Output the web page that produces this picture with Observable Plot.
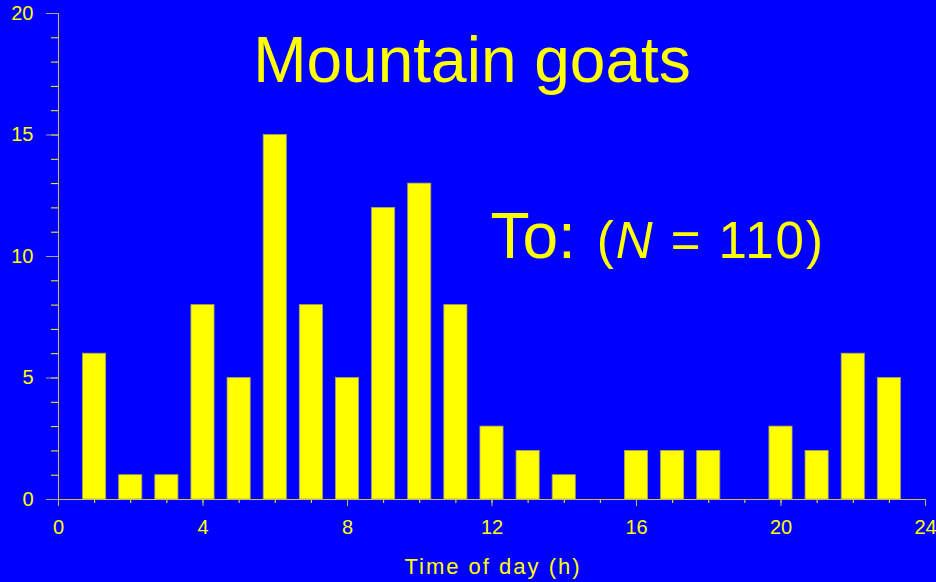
<!DOCTYPE html>
<html>
<head>
<meta charset="utf-8">
<script src="https://cdn.jsdelivr.net/npm/d3@7"></script>
<script src="https://cdn.jsdelivr.net/npm/@observablehq/plot@0.6"></script>
<style>
  html, body { margin: 0; padding: 0; background: #0000ff; }
</style>
</head>
<body>
<div id="chart"></div>
<script>
const hours = [1,2,3,4,5,6,7,8,9,10,11,12,13,14,15,16,17,18,19,20,21,22,23];
const counts = [6,1,1,8,5,15,8,5,12,13,8,3,2,1,0,2,2,2,0,3,2,6,5];
const xMajorTicks = [0,4,8,12,16,20,24];
const xMinorTicks = d3.range(0, 25, 1);
const yMajorTicks = [0,5,10,15,20];
const yMinorTicks = d3.range(0, 21, 1);
const titleText = "Mountain goats";
const groupText = "To: (N = 110)";
const xLabel = "Time of day (h)";

const data = hours.map((h, i) => ({h, n: counts[i]})).filter(d => d.n > 0);
const yellow = "#ffff00";
const axisColor = "#c8bd5c";

const chart = Plot.plot({
  width: 936,
  height: 582,
  marginLeft: 58,
  marginRight: 11,
  marginTop: 13,
  marginBottom: 83,
  style: {background: "#0000ff", color: yellow, fontFamily: "'Liberation Sans', Arial, sans-serif", overflow: "visible"},
  x: {domain: [0, 24]},
  y: {domain: [0, 20]},
  marks: [
    Plot.rectY(data, {x1: d => d.h - 0.32, x2: d => d.h + 0.32, y: "n", fill: yellow, stroke: "#a6a25a", strokeWidth: 0.8}),
    Plot.axisY(yMinorTicks, {tickSize: 7, tickFormat: () => "", label: null, stroke: yellow}),
    Plot.axisY(yMajorTicks, {tickSize: 12, tickPadding: 13, fontSize: 20, label: null, stroke: "#aaa68a", fill: yellow}),
    Plot.axisX(xMinorTicks, {tickSize: 4, tickFormat: () => "", label: null, stroke: yellow}),
    Plot.axisX(xMajorTicks, {tickSize: 7, tickPadding: 13, fontSize: 20, label: null, stroke: "#c8bd5c", fill: yellow}),
    Plot.ruleX([0], {stroke: axisColor, y1: 0, y2: 20}),
    Plot.ruleY([0], {stroke: axisColor, x1: 0, x2: 24}),
    Plot.text([titleText], {frameAnchor: "top", dx: -20, dy: 68, lineAnchor: "bottom", textAnchor: "middle", fontSize: 64, fill: yellow}),
    Plot.text([groupText], {frameAnchor: "top-left", dx: 432, dy: 244, lineAnchor: "bottom", textAnchor: "start", fontSize: 64, fill: yellow}),
    Plot.text([xLabel], {frameAnchor: "bottom", dx: 1, dy: 74, lineAnchor: "bottom", textAnchor: "middle", fontSize: 22, fill: yellow})
  ]
});

for (const t of chart.querySelectorAll("text")) {
  if (t.textContent === groupText) {
    t.innerHTML = 'To: <tspan font-size="51" dx="3" letter-spacing="2">(<tspan font-style="italic">N</tspan> = 110)</tspan>';
  } else if (t.textContent === xLabel) {
    t.setAttribute("letter-spacing", "2");
    t.style.letterSpacing = "2px";
  }
}
document.getElementById("chart").appendChild(chart);
</script>
</body>
</html>
